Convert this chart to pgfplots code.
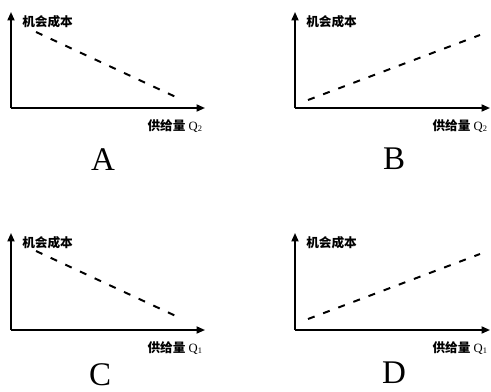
\documentclass[border=0pt]{standalone}
\usepackage{fontspec}
\setmainfont{Liberation Serif}
\newfontfamily\cjk{Noto Sans CJK SC}
\usepackage{pgfplots}
\pgfplotsset{compat=1.18}
\usetikzlibrary{arrows.meta}

% one small sketch: axes with arrows, no ticks, units in reference pixels
\pgfplotsset{
  panel/.style={
    scale only axis, anchor=south west, clip=false,
    axis lines=left,
    axis line style={line width=1.2pt, -{Triangle[length=6pt,width=5pt]}},
    xtick=\empty, ytick=\empty,
    xmin=0, ymin=0,
    every axis x label/.style={at={(axis description cs:1,0)}, anchor=east,
      xshift=-0.05cm, yshift=-0.45cm, inner sep=0pt, font=\fontsize{9}{10}\selectfont},
    every axis y label/.style={at={(axis description cs:0,1)}, anchor=west,
      xshift=0.275cm, yshift=-0.25cm, inner sep=0pt, font=\fontsize{9}{10}\selectfont},
    ylabel={\cjk\bfseries 机会成本},
  },
  letter/.style n args={3}{
    title={#1},
    every axis title/.style={at={(axis description cs:#2,0)}, anchor=center,
      yshift=#3, inner sep=0pt, font=\fontsize{23.5}{24}\selectfont},
  },
  dashline/.style={black, line width=1.4pt, dash pattern=on 5pt off 6.5pt},
}

\begin{document}
\begin{tikzpicture}
\useasboundingbox (0,0) rectangle (12.275cm,9.775cm);

% A
\begin{axis}[panel, at={(0.275cm,7.075cm)}, width=4.85cm, height=2.4cm,
  xmax=194, ymax=96, xlabel={{\cjk\bfseries 供给量}\ Q\textsubscript{2}},
  letter={A}{0.474}{-1.3cm}]
\addplot[dashline] coordinates {(25,76) (167,10)};
\end{axis}

% B
\begin{axis}[panel, at={(7.375cm,7.075cm)}, width=4.875cm, height=2.4cm,
  xmax=195, ymax=96, xlabel={{\cjk\bfseries 供给量}\ Q\textsubscript{2}},
  letter={B}{0.508}{-1.275cm}]
\addplot[dashline] coordinates {(13,8) (185,73)};
\end{axis}

% C
\begin{axis}[panel, at={(0.275cm,1.525cm)}, width=4.85cm, height=2.425cm,
  xmax=194, ymax=97, xlabel={{\cjk\bfseries 供给量}\ Q\textsubscript{1}},
  letter={C}{0.459}{-1.12cm}]
\addplot[dashline] coordinates {(25,79) (167,13)};
\end{axis}

% D
\begin{axis}[panel, at={(7.375cm,1.525cm)}, width=4.875cm, height=2.425cm,
  xmax=195, ymax=97, xlabel={{\cjk\bfseries 供给量}\ Q\textsubscript{1}},
  letter={D}{0.508}{-1.08cm}]
\addplot[dashline] coordinates {(13,11) (185,76)};
\end{axis}
\end{tikzpicture}
\end{document}
